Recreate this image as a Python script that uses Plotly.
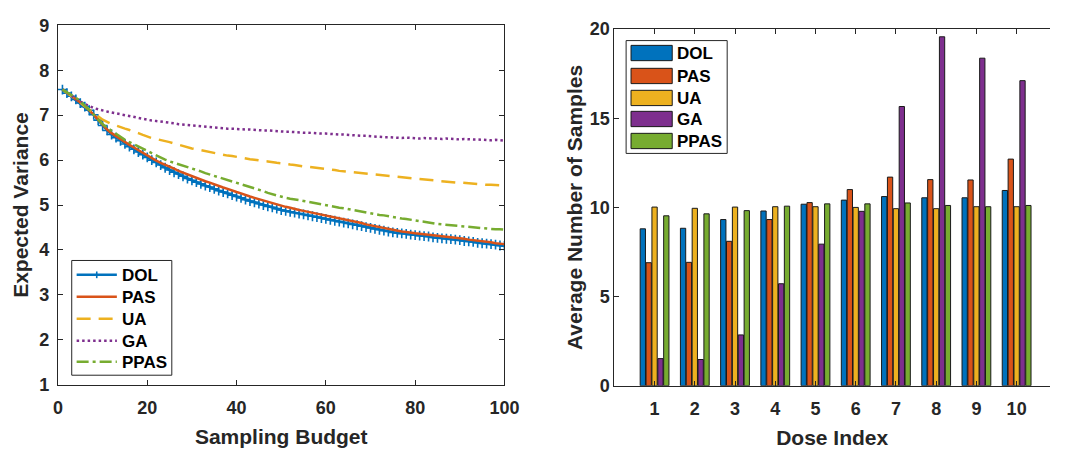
import plotly.graph_objects as go

# ---------------- data ----------------
budget = list(range(1, 101))

dol = [7.57, 7.49, 7.42, 7.35, 7.27, 7.19, 7.11, 7.01, 6.89, 6.77,
       6.66, 6.57, 6.50, 6.43, 6.36, 6.30, 6.24, 6.18, 6.12, 6.06,
       6.00, 5.95, 5.89, 5.83, 5.78, 5.73, 5.69, 5.64, 5.59, 5.55,
       5.51, 5.47, 5.43, 5.40, 5.36, 5.32, 5.29, 5.26, 5.22, 5.19,
       5.16, 5.12, 5.09, 5.06, 5.03, 5.00, 4.97, 4.95, 4.92, 4.89,
       4.87, 4.85, 4.83, 4.81, 4.79, 4.77, 4.75, 4.73, 4.71, 4.69,
       4.67, 4.65, 4.63, 4.61, 4.59, 4.57, 4.55, 4.53, 4.51, 4.49,
       4.47, 4.45, 4.43, 4.41, 4.39, 4.38, 4.37, 4.36, 4.34, 4.33,
       4.32, 4.31, 4.30, 4.28, 4.27, 4.26, 4.25, 4.24, 4.23, 4.22,
       4.20, 4.19, 4.18, 4.16, 4.15, 4.14, 4.13, 4.12, 4.10, 4.09]

pas = [7.57, 7.50, 7.43, 7.36, 7.28, 7.20, 7.11, 7.01, 6.90, 6.78,
       6.68, 6.60, 6.53, 6.46, 6.40, 6.34, 6.28, 6.22, 6.16, 6.10,
       6.04, 5.99, 5.94, 5.90, 5.85, 5.81, 5.76, 5.72, 5.68, 5.64,
       5.60, 5.57, 5.53, 5.50, 5.46, 5.43, 5.39, 5.36, 5.32, 5.29,
       5.26, 5.22, 5.19, 5.16, 5.13, 5.10, 5.07, 5.04, 5.01, 4.98,
       4.96, 4.94, 4.91, 4.89, 4.87, 4.85, 4.83, 4.81, 4.79, 4.77,
       4.75, 4.73, 4.71, 4.69, 4.67, 4.64, 4.62, 4.60, 4.57, 4.55,
       4.53, 4.51, 4.48, 4.46, 4.44, 4.43, 4.41, 4.40, 4.38, 4.37,
       4.36, 4.35, 4.34, 4.33, 4.32, 4.31, 4.30, 4.28, 4.27, 4.26,
       4.25, 4.23, 4.22, 4.20, 4.19, 4.18, 4.17, 4.15, 4.14, 4.13]

ua = [7.57, 7.50, 7.42, 7.35, 7.28, 7.20, 7.12, 7.04, 6.97, 6.90,
      6.85, 6.80, 6.77, 6.73, 6.70, 6.67, 6.64, 6.60, 6.56, 6.52,
      6.49, 6.47, 6.45, 6.42, 6.40, 6.37, 6.34, 6.31, 6.28, 6.26,
      6.24, 6.22, 6.20, 6.17, 6.15, 6.13, 6.12, 6.10, 6.09, 6.07,
      6.05, 6.04, 6.02, 6.01, 5.99, 5.98, 5.97, 5.95, 5.94, 5.93,
      5.91, 5.90, 5.89, 5.87, 5.86, 5.85, 5.84, 5.82, 5.81, 5.80,
      5.79, 5.78, 5.76, 5.75, 5.74, 5.73, 5.72, 5.70, 5.69, 5.68,
      5.67, 5.66, 5.65, 5.64, 5.63, 5.62, 5.61, 5.60, 5.59, 5.58,
      5.57, 5.56, 5.55, 5.54, 5.53, 5.52, 5.52, 5.51, 5.50, 5.50,
      5.49, 5.48, 5.47, 5.47, 5.46, 5.45, 5.45, 5.44, 5.44, 5.43]

ga = [7.57, 7.50, 7.43, 7.37, 7.30, 7.25, 7.20, 7.16, 7.13, 7.10,
      7.08, 7.06, 7.04, 7.01, 6.99, 6.97, 6.95, 6.94, 6.92, 6.90,
      6.88, 6.87, 6.86, 6.84, 6.83, 6.82, 6.80, 6.79, 6.78, 6.77,
      6.76, 6.75, 6.74, 6.73, 6.72, 6.71, 6.71, 6.70, 6.70, 6.69,
      6.69, 6.68, 6.68, 6.67, 6.67, 6.66, 6.66, 6.65, 6.65, 6.64,
      6.63, 6.63, 6.62, 6.62, 6.61, 6.61, 6.60, 6.60, 6.59, 6.59,
      6.58, 6.58, 6.57, 6.57, 6.56, 6.55, 6.55, 6.54, 6.54, 6.53,
      6.52, 6.52, 6.51, 6.51, 6.50, 6.50, 6.49, 6.50, 6.49, 6.49,
      6.48, 6.49, 6.48, 6.48, 6.48, 6.47, 6.48, 6.47, 6.47, 6.46,
      6.47, 6.46, 6.46, 6.46, 6.45, 6.45, 6.44, 6.45, 6.44, 6.43]

ppas = [7.57, 7.51, 7.45, 7.39, 7.31, 7.22, 7.12, 7.01, 6.90, 6.80,
        6.72, 6.65, 6.58, 6.51, 6.45, 6.40, 6.35, 6.30, 6.25, 6.20,
        6.15, 6.10, 6.06, 6.01, 5.97, 5.94, 5.91, 5.88, 5.85, 5.82,
        5.78, 5.75, 5.71, 5.68, 5.64, 5.61, 5.58, 5.55, 5.52, 5.49,
        5.46, 5.43, 5.40, 5.37, 5.34, 5.31, 5.27, 5.24, 5.21, 5.18,
        5.16, 5.14, 5.13, 5.11, 5.09, 5.07, 5.05, 5.04, 5.02, 5.00,
        4.98, 4.96, 4.94, 4.93, 4.91, 4.89, 4.87, 4.86, 4.84, 4.82,
        4.80, 4.78, 4.77, 4.75, 4.73, 4.72, 4.70, 4.69, 4.67, 4.66,
        4.64, 4.63, 4.61, 4.60, 4.58, 4.57, 4.56, 4.55, 4.54, 4.53,
        4.52, 4.51, 4.50, 4.49, 4.48, 4.47, 4.47, 4.46, 4.46, 4.45]

dose_index = list(range(1, 11))
dose_labels = [str(d) for d in dose_index]
samples_dol = [8.80, 8.83, 9.32, 9.80, 10.18, 10.41, 10.61, 10.54, 10.54, 10.95]
samples_pas = [6.90, 6.92, 8.10, 9.32, 10.27, 11.00, 11.70, 11.56, 11.54, 12.71]
samples_ua = [10.02, 9.95, 10.02, 10.04, 10.04, 10.00, 9.93, 9.93, 10.04, 10.04]
samples_ga = [1.52, 1.47, 2.85, 5.72, 7.94, 9.78, 15.66, 19.57, 18.37, 17.11]
samples_ppas = [9.53, 9.64, 9.82, 10.07, 10.20, 10.20, 10.25, 10.11, 10.04, 10.11]

names = ["DOL", "PAS", "UA", "GA", "PPAS"]
colors = ["#0072BD", "#D95319", "#EDB120", "#7E2F8E", "#77AC30"]
dashes = ["solid", "solid", "14px,8px", "2.5px,3px", "12px,4px,3px,4px"]

# ---------------- styling helpers ----------------
W, H = 1065, 455
FONT = "Liberation Sans"
INK = "#262626"


def px_x(p):
    return p / W


def px_y(p):
    return 1 - p / H


fig = go.Figure()

# ---------------- left: expected variance curves ----------------
curves = [dol, pas, ua, ga, ppas]
for name, col, dash, vals in zip(names, colors, dashes, curves):
    kw = dict(mode="lines")
    if name == "DOL":
        kw = dict(mode="lines+markers",
                  marker=dict(symbol="cross-thin", size=7, color=col,
                              line=dict(width=1.6, color=col)))
    fig.add_trace(go.Scatter(
        x=budget, y=vals, name=name, xaxis="x", yaxis="y",
        line=dict(color=col, width=2.5, dash=dash), showlegend=False, **kw))

# ---------------- right: average number of samples ----------------
bar_series = [samples_dol, samples_pas, samples_ua, samples_ga, samples_ppas]
for name, col, vals in zip(names, colors, bar_series):
    fig.add_trace(go.Bar(
        x=dose_index, y=vals, name=name, xaxis="x2", yaxis="y2",
        marker=dict(color=col, line=dict(color="#1a1a1a", width=1)),
        showlegend=False))

tick_font = dict(family=FONT, size=18, color=INK, weight="bold")
title_font = dict(family=FONT, size=21, color=INK, weight="bold")
axis_common = dict(
    showgrid=False, zeroline=False, showline=True, linecolor=INK,
    linewidth=1, ticks="inside", ticklen=5, tickwidth=1, tickcolor=INK,
    tickfont=tick_font,
)

fig.update_layout(
    width=W, height=H,
    margin=dict(l=0, r=0, t=0, b=0),
    paper_bgcolor="white", plot_bgcolor="white",
    barmode="group", bargap=0.27, bargroupgap=0.1,
    showlegend=False,
    xaxis=dict(domain=[px_x(54), px_x(509)], range=[0, 100],
               tickvals=[0, 20, 40, 60, 80, 100], mirror="ticks",
               anchor="y", ticklabelstandoff=7,
               title=dict(text="Sampling Budget", font=title_font, standoff=11),
               **axis_common),
    yaxis=dict(domain=[px_y(392), px_y(16)], range=[1, 9], dtick=1,
               mirror="ticks", anchor="x", ticklabelstandoff=4,
               title=dict(text="Expected Variance", font=title_font, standoff=5),
               **axis_common),
    xaxis2=dict(domain=[px_x(621), 1.0], range=[0, (W - 621) / 41.0],
                tickvals=dose_index, ticktext=dose_labels, mirror="ticks",
                anchor="y2", ticklabelstandoff=7,
                title=dict(text="Dose Index", font=title_font, standoff=11),
                **axis_common),
    yaxis2=dict(domain=[px_y(393), px_y(20)], range=[0, 20],
                tickvals=[0, 5, 10, 15, 20], mirror=False, anchor="x2",
                ticklabelstandoff=0,
                title=dict(text="Average Number of Samples", font=title_font,
                           standoff=1),
                **axis_common),
)

legend_font = dict(family=FONT, size=17, color="black", weight="bold")
shapes = []
annotations = []


def legend_box(left, right, top, bottom):
    shapes.append(dict(type="rect", xref="paper", yref="paper",
                       x0=px_x(left), x1=px_x(right),
                       y0=px_y(bottom), y1=px_y(top),
                       line=dict(color=INK, width=1), fillcolor="white",
                       layer="above"))


def legend_label(x, y, text):
    annotations.append(dict(x=px_x(x), y=px_y(y), xref="paper", yref="paper",
                            text=text, showarrow=False, xanchor="left",
                            yanchor="middle", font=legend_font))


# legend for the variance curves
legend_box(68, 170, 262, 382)
line_rows = [277, 300, 323, 346, 368]
for name, col, dash, yc in zip(names, colors, dashes, line_rows):
    shapes.append(dict(type="line", xref="paper", yref="paper",
                       x0=px_x(73), x1=px_x(114), y0=px_y(yc), y1=px_y(yc),
                       line=dict(color=col, width=2.5, dash=dash),
                       layer="above"))
    if name == "DOL":
        shapes.append(dict(type="line", xref="paper", yref="paper",
                           x0=px_x(93.5), x1=px_x(93.5),
                           y0=px_y(yc - 3.5), y1=px_y(yc + 3.5),
                           line=dict(color=col, width=1.6), layer="above"))
    legend_label(117, yc + 1, name)

# legend for the sample counts
legend_box(633, 736, 32, 150)
bar_rows = [45, 69, 92, 114, 137]
for name, col, yc in zip(names, colors, bar_rows):
    shapes.append(dict(type="rect", xref="paper", yref="paper",
                       x0=px_x(638), x1=px_x(680),
                       y0=px_y(yc + 8), y1=px_y(yc - 8),
                       line=dict(color="#1a1a1a", width=1), fillcolor=col,
                       layer="above"))
    legend_label(683, yc + 1, name)

fig.update_layout(shapes=shapes, annotations=annotations)

fig.write_html("out.html")
